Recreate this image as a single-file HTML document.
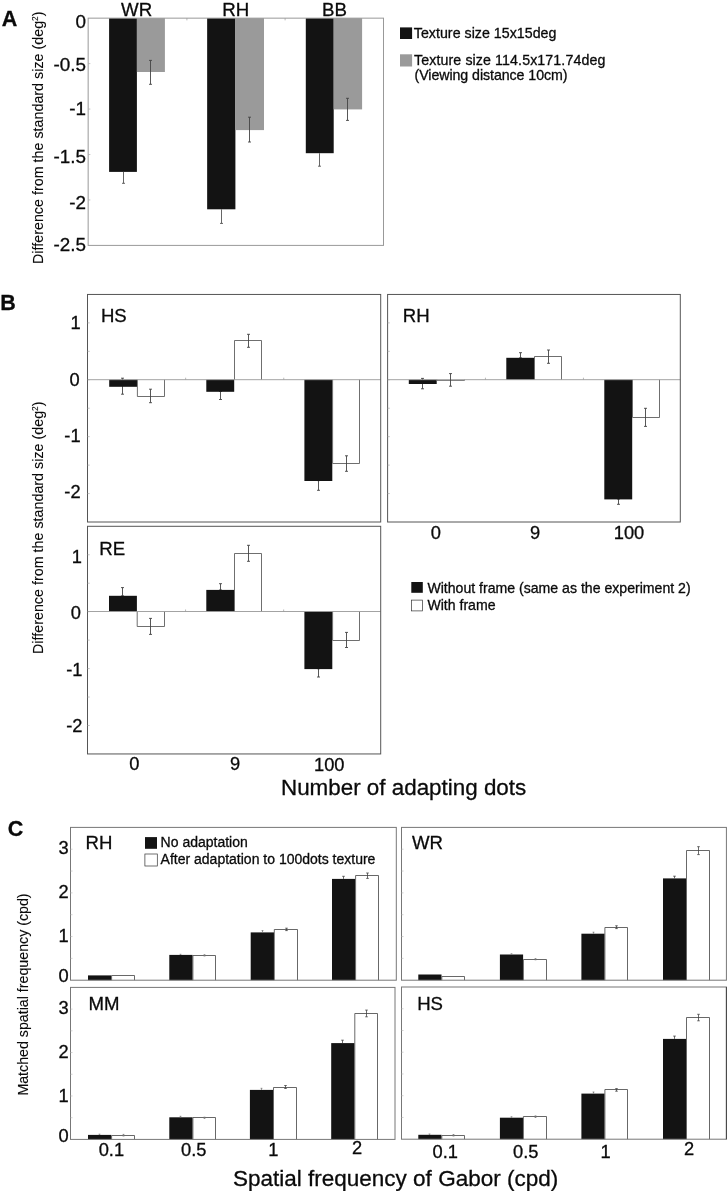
<!DOCTYPE html>
<html lang="en">
<head>
<meta charset="utf-8">
<title>Figure</title>
<style>
html,body{margin:0;padding:0;background:#fff;}
body{width:727px;height:1191px;overflow:hidden;}
svg{display:block;will-change:transform;filter:grayscale(1);font-family:'Liberation Sans', sans-serif;fill:#0a0a0a;}
text{stroke:#0a0a0a;stroke-width:0.3px;}
</style>
</head>
<body>
<svg width="727" height="1191" viewBox="0 0 727 1191">
<rect x="0" y="0" width="727" height="1191" fill="#ffffff"/>
<rect x="109.10" y="18.15" width="27.80" height="153.75" fill="#131313"/>
<rect x="136.90" y="18.15" width="28.00" height="53.85" fill="#9a9a9a"/>
<line x1="123.50" y1="171.90" x2="123.50" y2="183.30" stroke="#555" stroke-width="0.9"/>
<line x1="122.00" y1="183.30" x2="125.00" y2="183.30" stroke="#555" stroke-width="0.9"/>
<line x1="150.50" y1="60.40" x2="150.50" y2="84.30" stroke="#444" stroke-width="0.9"/>
<line x1="149.00" y1="60.40" x2="152.00" y2="60.40" stroke="#444" stroke-width="0.9"/>
<line x1="149.00" y1="84.30" x2="152.00" y2="84.30" stroke="#444" stroke-width="0.9"/>
<rect x="207.15" y="18.15" width="28.25" height="191.15" fill="#131313"/>
<rect x="235.40" y="18.15" width="28.60" height="111.95" fill="#9a9a9a"/>
<line x1="221.50" y1="209.30" x2="221.50" y2="223.40" stroke="#555" stroke-width="0.9"/>
<line x1="220.00" y1="223.40" x2="223.00" y2="223.40" stroke="#555" stroke-width="0.9"/>
<line x1="249.50" y1="117.20" x2="249.50" y2="142.00" stroke="#444" stroke-width="0.9"/>
<line x1="248.00" y1="117.20" x2="251.00" y2="117.20" stroke="#444" stroke-width="0.9"/>
<line x1="248.00" y1="142.00" x2="251.00" y2="142.00" stroke="#444" stroke-width="0.9"/>
<rect x="305.80" y="18.15" width="27.90" height="135.05" fill="#131313"/>
<rect x="333.70" y="18.15" width="28.40" height="91.25" fill="#9a9a9a"/>
<line x1="319.50" y1="153.20" x2="319.50" y2="166.20" stroke="#555" stroke-width="0.9"/>
<line x1="318.00" y1="166.20" x2="321.00" y2="166.20" stroke="#555" stroke-width="0.9"/>
<line x1="347.50" y1="98.30" x2="347.50" y2="120.40" stroke="#444" stroke-width="0.9"/>
<line x1="346.00" y1="98.30" x2="349.00" y2="98.30" stroke="#444" stroke-width="0.9"/>
<line x1="346.00" y1="120.40" x2="349.00" y2="120.40" stroke="#444" stroke-width="0.9"/>
<rect x="88.15" y="18.15" width="295.35" height="227.25" fill="none" stroke="#999" stroke-width="1"/>
<line x1="186.90" y1="18.15" x2="186.90" y2="20.35" stroke="#999" stroke-width="0.7"/>
<line x1="285.10" y1="18.15" x2="285.10" y2="20.35" stroke="#999" stroke-width="0.7"/>
<line x1="88.15" y1="63.60" x2="90.35" y2="63.60" stroke="#aaa" stroke-width="0.7"/>
<line x1="88.15" y1="109.05" x2="90.35" y2="109.05" stroke="#aaa" stroke-width="0.7"/>
<line x1="88.15" y1="154.50" x2="90.35" y2="154.50" stroke="#aaa" stroke-width="0.7"/>
<line x1="88.15" y1="199.95" x2="90.35" y2="199.95" stroke="#aaa" stroke-width="0.7"/>
<text x="85.90" y="27.80" font-size="18.85" text-anchor="end">0</text>
<text x="85.90" y="71.40" font-size="18.85" text-anchor="end">-0.5</text>
<text x="85.90" y="114.90" font-size="18.85" text-anchor="end">-1</text>
<text x="85.90" y="162.70" font-size="18.85" text-anchor="end">-1.5</text>
<text x="85.90" y="208.70" font-size="18.85" text-anchor="end">-2</text>
<text x="85.90" y="250.80" font-size="18.85" text-anchor="end">-2.5</text>
<text x="136.60" y="16.00" font-size="18.7" text-anchor="middle">WR</text>
<text x="235.80" y="16.00" font-size="18.7" text-anchor="middle">RH</text>
<text x="334.40" y="16.00" font-size="18.7" text-anchor="middle">BB</text>
<text x="1.80" y="26.20" font-size="21.5" font-weight="bold">A</text>
<text x="42.70" y="264.00" font-size="14.2" transform="rotate(-90 42.70 264.00)" style="stroke-width:0.12px" textLength="252.5" lengthAdjust="spacing">Difference from the standard size (deg<tspan font-size="8.3" dy="-4.6">2</tspan><tspan dy="4.6">)</tspan></text>
<rect x="400.00" y="27.40" width="12.10" height="11.60" fill="#131313"/>
<rect x="400.00" y="54.30" width="12.10" height="12.20" fill="#9a9a9a"/>
<text x="413.80" y="38.10" font-size="14.2" textLength="142.6" lengthAdjust="spacing">Texture size 15x15deg</text>
<text x="414.00" y="65.40" font-size="14.2" textLength="191.3" lengthAdjust="spacing">Texture size 114.5x171.74deg</text>
<text x="414.50" y="80.40" font-size="14.2" textLength="153.0" lengthAdjust="spacing">(Viewing distance 10cm)</text>
<line x1="122.50" y1="378.20" x2="122.50" y2="394.20" stroke="#444" stroke-width="0.9"/>
<line x1="121.00" y1="378.20" x2="124.00" y2="378.20" stroke="#444" stroke-width="0.9"/>
<line x1="121.00" y1="394.20" x2="124.00" y2="394.20" stroke="#444" stroke-width="0.9"/>
<rect x="109.20" y="379.70" width="27.90" height="7.10" fill="#131313"/>
<path d="M137.40 379.70V396.50H164.50V379.70" fill="#fff" stroke="#555" stroke-width="0.85"/>
<line x1="220.50" y1="391.40" x2="220.50" y2="399.50" stroke="#444" stroke-width="0.9"/>
<line x1="219.00" y1="391.40" x2="222.00" y2="391.40" stroke="#444" stroke-width="0.9"/>
<line x1="219.00" y1="399.50" x2="222.00" y2="399.50" stroke="#444" stroke-width="0.9"/>
<rect x="206.30" y="379.70" width="27.90" height="12.10" fill="#131313"/>
<path d="M234.50 379.70V340.50H261.50V379.70" fill="#fff" stroke="#555" stroke-width="0.85"/>
<line x1="318.50" y1="480.60" x2="318.50" y2="490.30" stroke="#444" stroke-width="0.9"/>
<line x1="317.00" y1="480.60" x2="320.00" y2="480.60" stroke="#444" stroke-width="0.9"/>
<line x1="317.00" y1="490.30" x2="320.00" y2="490.30" stroke="#444" stroke-width="0.9"/>
<rect x="304.40" y="379.70" width="27.90" height="101.30" fill="#131313"/>
<path d="M332.60 379.70V463.50H359.50V379.70" fill="#fff" stroke="#555" stroke-width="0.85"/>
<line x1="87.50" y1="379.70" x2="380.70" y2="379.70" stroke="#999" stroke-width="0.9"/>
<line x1="150.50" y1="389.20" x2="150.50" y2="402.70" stroke="#444" stroke-width="0.9"/>
<line x1="149.00" y1="389.20" x2="152.00" y2="389.20" stroke="#444" stroke-width="0.9"/>
<line x1="149.00" y1="402.70" x2="152.00" y2="402.70" stroke="#444" stroke-width="0.9"/>
<line x1="248.50" y1="334.30" x2="248.50" y2="347.30" stroke="#444" stroke-width="0.9"/>
<line x1="247.00" y1="334.30" x2="250.00" y2="334.30" stroke="#444" stroke-width="0.9"/>
<line x1="247.00" y1="347.30" x2="250.00" y2="347.30" stroke="#444" stroke-width="0.9"/>
<line x1="346.50" y1="455.80" x2="346.50" y2="471.30" stroke="#444" stroke-width="0.9"/>
<line x1="345.00" y1="455.80" x2="348.00" y2="455.80" stroke="#444" stroke-width="0.9"/>
<line x1="345.00" y1="471.30" x2="348.00" y2="471.30" stroke="#444" stroke-width="0.9"/>
<rect x="87.5" y="294.45" width="293.2" height="227.55" fill="none" stroke="#555" stroke-width="1"/>
<line x1="87.50" y1="322.89" x2="89.70" y2="322.89" stroke="#aaa" stroke-width="0.7"/>
<line x1="87.50" y1="351.34" x2="89.70" y2="351.34" stroke="#aaa" stroke-width="0.7"/>
<line x1="87.50" y1="379.78" x2="89.70" y2="379.78" stroke="#aaa" stroke-width="0.7"/>
<line x1="87.50" y1="408.23" x2="89.70" y2="408.23" stroke="#aaa" stroke-width="0.7"/>
<line x1="87.50" y1="436.67" x2="89.70" y2="436.67" stroke="#aaa" stroke-width="0.7"/>
<line x1="87.50" y1="465.11" x2="89.70" y2="465.11" stroke="#aaa" stroke-width="0.7"/>
<line x1="87.50" y1="493.56" x2="89.70" y2="493.56" stroke="#aaa" stroke-width="0.7"/>
<line x1="185.65" y1="377.70" x2="185.65" y2="379.70" stroke="#999" stroke-width="0.7"/>
<line x1="283.75" y1="377.70" x2="283.75" y2="379.70" stroke="#999" stroke-width="0.7"/>
<text x="100.90" y="321.90" font-size="18.6">HS</text>
<line x1="422.50" y1="378.40" x2="422.50" y2="388.80" stroke="#444" stroke-width="0.9"/>
<line x1="421.00" y1="378.40" x2="424.00" y2="378.40" stroke="#444" stroke-width="0.9"/>
<line x1="421.00" y1="388.80" x2="424.00" y2="388.80" stroke="#444" stroke-width="0.9"/>
<rect x="408.80" y="379.70" width="27.90" height="4.30" fill="#131313"/>
<path d="M437.00 379.70V380.40H464.50V379.70" fill="#fff" stroke="#555" stroke-width="0.85"/>
<line x1="520.50" y1="352.70" x2="520.50" y2="357.90" stroke="#444" stroke-width="0.9"/>
<line x1="519.00" y1="352.70" x2="522.00" y2="352.70" stroke="#444" stroke-width="0.9"/>
<line x1="519.00" y1="357.90" x2="522.00" y2="357.90" stroke="#444" stroke-width="0.9"/>
<rect x="506.30" y="357.80" width="27.90" height="21.90" fill="#131313"/>
<path d="M534.50 379.70V356.50H561.50V379.70" fill="#fff" stroke="#555" stroke-width="0.85"/>
<line x1="618.50" y1="499.00" x2="618.50" y2="504.30" stroke="#444" stroke-width="0.9"/>
<line x1="617.00" y1="499.00" x2="620.00" y2="499.00" stroke="#444" stroke-width="0.9"/>
<line x1="617.00" y1="504.30" x2="620.00" y2="504.30" stroke="#444" stroke-width="0.9"/>
<rect x="604.30" y="379.70" width="27.90" height="119.70" fill="#131313"/>
<path d="M632.50 379.70V417.50H659.50V379.70" fill="#fff" stroke="#555" stroke-width="0.85"/>
<line x1="387.60" y1="379.70" x2="680.30" y2="379.70" stroke="#999" stroke-width="0.9"/>
<line x1="450.50" y1="373.60" x2="450.50" y2="386.20" stroke="#444" stroke-width="0.9"/>
<line x1="449.00" y1="373.60" x2="452.00" y2="373.60" stroke="#444" stroke-width="0.9"/>
<line x1="449.00" y1="386.20" x2="452.00" y2="386.20" stroke="#444" stroke-width="0.9"/>
<line x1="548.50" y1="350.00" x2="548.50" y2="363.30" stroke="#444" stroke-width="0.9"/>
<line x1="547.00" y1="350.00" x2="550.00" y2="350.00" stroke="#444" stroke-width="0.9"/>
<line x1="547.00" y1="363.30" x2="550.00" y2="363.30" stroke="#444" stroke-width="0.9"/>
<line x1="645.50" y1="408.30" x2="645.50" y2="426.40" stroke="#444" stroke-width="0.9"/>
<line x1="644.00" y1="408.30" x2="647.00" y2="408.30" stroke="#444" stroke-width="0.9"/>
<line x1="644.00" y1="426.40" x2="647.00" y2="426.40" stroke="#444" stroke-width="0.9"/>
<rect x="387.6" y="294.45" width="292.69999999999993" height="227.55" fill="none" stroke="#555" stroke-width="1"/>
<line x1="387.60" y1="322.89" x2="389.80" y2="322.89" stroke="#aaa" stroke-width="0.7"/>
<line x1="387.60" y1="351.34" x2="389.80" y2="351.34" stroke="#aaa" stroke-width="0.7"/>
<line x1="387.60" y1="379.78" x2="389.80" y2="379.78" stroke="#aaa" stroke-width="0.7"/>
<line x1="387.60" y1="408.23" x2="389.80" y2="408.23" stroke="#aaa" stroke-width="0.7"/>
<line x1="387.60" y1="436.67" x2="389.80" y2="436.67" stroke="#aaa" stroke-width="0.7"/>
<line x1="387.60" y1="465.11" x2="389.80" y2="465.11" stroke="#aaa" stroke-width="0.7"/>
<line x1="387.60" y1="493.56" x2="389.80" y2="493.56" stroke="#aaa" stroke-width="0.7"/>
<line x1="485.45" y1="377.70" x2="485.45" y2="379.70" stroke="#999" stroke-width="0.7"/>
<line x1="583.45" y1="377.70" x2="583.45" y2="379.70" stroke="#999" stroke-width="0.7"/>
<text x="402.80" y="322.30" font-size="18.6">RH</text>
<line x1="122.50" y1="587.60" x2="122.50" y2="595.90" stroke="#444" stroke-width="0.9"/>
<line x1="121.00" y1="587.60" x2="124.00" y2="587.60" stroke="#444" stroke-width="0.9"/>
<line x1="121.00" y1="595.90" x2="124.00" y2="595.90" stroke="#444" stroke-width="0.9"/>
<rect x="109.00" y="595.80" width="27.90" height="15.70" fill="#131313"/>
<path d="M137.20 611.50V626.50H164.50V611.50" fill="#fff" stroke="#555" stroke-width="0.85"/>
<line x1="220.50" y1="583.70" x2="220.50" y2="590.00" stroke="#444" stroke-width="0.9"/>
<line x1="219.00" y1="583.70" x2="222.00" y2="583.70" stroke="#444" stroke-width="0.9"/>
<line x1="219.00" y1="590.00" x2="222.00" y2="590.00" stroke="#444" stroke-width="0.9"/>
<rect x="206.30" y="589.90" width="27.90" height="21.60" fill="#131313"/>
<path d="M234.50 611.50V553.50H261.50V611.50" fill="#fff" stroke="#555" stroke-width="0.85"/>
<line x1="318.50" y1="668.70" x2="318.50" y2="677.00" stroke="#444" stroke-width="0.9"/>
<line x1="317.00" y1="668.70" x2="320.00" y2="668.70" stroke="#444" stroke-width="0.9"/>
<line x1="317.00" y1="677.00" x2="320.00" y2="677.00" stroke="#444" stroke-width="0.9"/>
<rect x="304.40" y="611.50" width="27.90" height="57.60" fill="#131313"/>
<path d="M332.60 611.50V640.50H359.50V611.50" fill="#fff" stroke="#555" stroke-width="0.85"/>
<line x1="87.50" y1="611.50" x2="380.70" y2="611.50" stroke="#999" stroke-width="0.9"/>
<line x1="150.50" y1="618.40" x2="150.50" y2="634.40" stroke="#444" stroke-width="0.9"/>
<line x1="149.00" y1="618.40" x2="152.00" y2="618.40" stroke="#444" stroke-width="0.9"/>
<line x1="149.00" y1="634.40" x2="152.00" y2="634.40" stroke="#444" stroke-width="0.9"/>
<line x1="248.50" y1="545.30" x2="248.50" y2="561.30" stroke="#444" stroke-width="0.9"/>
<line x1="247.00" y1="545.30" x2="250.00" y2="545.30" stroke="#444" stroke-width="0.9"/>
<line x1="247.00" y1="561.30" x2="250.00" y2="561.30" stroke="#444" stroke-width="0.9"/>
<line x1="346.50" y1="632.40" x2="346.50" y2="647.50" stroke="#444" stroke-width="0.9"/>
<line x1="345.00" y1="632.40" x2="348.00" y2="632.40" stroke="#444" stroke-width="0.9"/>
<line x1="345.00" y1="647.50" x2="348.00" y2="647.50" stroke="#444" stroke-width="0.9"/>
<rect x="87.5" y="526.3" width="293.2" height="227.6500000000001" fill="none" stroke="#555" stroke-width="1"/>
<line x1="87.50" y1="554.76" x2="89.70" y2="554.76" stroke="#aaa" stroke-width="0.7"/>
<line x1="87.50" y1="583.21" x2="89.70" y2="583.21" stroke="#aaa" stroke-width="0.7"/>
<line x1="87.50" y1="611.67" x2="89.70" y2="611.67" stroke="#aaa" stroke-width="0.7"/>
<line x1="87.50" y1="640.12" x2="89.70" y2="640.12" stroke="#aaa" stroke-width="0.7"/>
<line x1="87.50" y1="668.58" x2="89.70" y2="668.58" stroke="#aaa" stroke-width="0.7"/>
<line x1="87.50" y1="697.04" x2="89.70" y2="697.04" stroke="#aaa" stroke-width="0.7"/>
<line x1="87.50" y1="725.49" x2="89.70" y2="725.49" stroke="#aaa" stroke-width="0.7"/>
<line x1="185.55" y1="609.50" x2="185.55" y2="611.50" stroke="#999" stroke-width="0.7"/>
<line x1="283.65" y1="609.50" x2="283.65" y2="611.50" stroke="#999" stroke-width="0.7"/>
<text x="99.30" y="555.00" font-size="18.6">RE</text>
<text x="80.60" y="328.80" font-size="18.3" text-anchor="end">1</text>
<text x="79.70" y="385.60" font-size="18.3" text-anchor="end">0</text>
<text x="80.60" y="441.90" font-size="18.3" text-anchor="end">-1</text>
<text x="80.60" y="498.20" font-size="18.3" text-anchor="end">-2</text>
<text x="82.00" y="562.50" font-size="18.3" text-anchor="end">1</text>
<text x="81.00" y="619.20" font-size="18.3" text-anchor="end">0</text>
<text x="82.40" y="675.50" font-size="18.3" text-anchor="end">-1</text>
<text x="82.40" y="731.80" font-size="18.3" text-anchor="end">-2</text>
<text x="435.80" y="539.30" font-size="18.3" text-anchor="middle">0</text>
<text x="535.00" y="539.30" font-size="18.3" text-anchor="middle">9</text>
<text x="629.00" y="539.30" font-size="18.3" text-anchor="middle">100</text>
<text x="134.30" y="770.30" font-size="18.3" text-anchor="middle">0</text>
<text x="235.00" y="769.60" font-size="18.3" text-anchor="middle">9</text>
<text x="329.30" y="770.80" font-size="18.3" text-anchor="middle">100</text>
<text x="281.00" y="794.90" font-size="22.4">Number of adapting dots</text>
<text x="0.20" y="309.90" font-size="21.5" font-weight="bold">B</text>
<text x="42.70" y="654.00" font-size="14.2" transform="rotate(-90 42.70 654.00)" style="stroke-width:0.12px" textLength="252.5" lengthAdjust="spacing">Difference from the standard size (deg<tspan font-size="8.3" dy="-4.6">2</tspan><tspan dy="4.6">)</tspan></text>
<rect x="411.30" y="582.00" width="11.50" height="10.80" fill="#131313"/>
<rect x="411.60" y="600.10" width="10.90" height="10.80" fill="#fff" stroke="#333" stroke-width="0.7"/>
<text x="427.40" y="592.50" font-size="14.1" textLength="263.2" lengthAdjust="spacing">Without frame (same as the experiment 2)</text>
<text x="427.40" y="610.10" font-size="14.1">With frame</text>
<rect x="88.00" y="975.40" width="23.30" height="4.80" fill="#131313"/>
<path d="M111.60 980.20V975.50H134.50V980.20" fill="#fff" stroke="#4d4d4d" stroke-width="0.85"/>
<rect x="169.30" y="954.90" width="23.30" height="25.30" fill="#131313"/>
<path d="M192.90 980.20V955.50H215.50V980.20" fill="#fff" stroke="#4d4d4d" stroke-width="0.85"/>
<line x1="180.50" y1="954.90" x2="180.50" y2="954.30" stroke="#777" stroke-width="0.8"/>
<line x1="179.60" y1="954.30" x2="181.40" y2="954.30" stroke="#777" stroke-width="0.8"/>
<line x1="204.50" y1="954.70" x2="204.50" y2="956.00" stroke="#777" stroke-width="0.8"/>
<line x1="203.60" y1="954.70" x2="205.40" y2="954.70" stroke="#777" stroke-width="0.8"/>
<line x1="203.60" y1="956.00" x2="205.40" y2="956.00" stroke="#777" stroke-width="0.8"/>
<rect x="250.70" y="932.40" width="23.30" height="47.80" fill="#131313"/>
<path d="M274.30 980.20V929.50H297.50V980.20" fill="#fff" stroke="#4d4d4d" stroke-width="0.85"/>
<line x1="262.50" y1="932.40" x2="262.50" y2="930.60" stroke="#777" stroke-width="0.8"/>
<line x1="261.60" y1="930.60" x2="263.40" y2="930.60" stroke="#777" stroke-width="0.8"/>
<line x1="286.50" y1="928.20" x2="286.50" y2="930.60" stroke="#444" stroke-width="0.8"/>
<line x1="285.20" y1="928.20" x2="287.80" y2="928.20" stroke="#444" stroke-width="0.8"/>
<line x1="285.20" y1="930.60" x2="287.80" y2="930.60" stroke="#444" stroke-width="0.8"/>
<rect x="332.00" y="878.90" width="23.30" height="101.30" fill="#131313"/>
<path d="M355.60 980.20V875.50H378.50V980.20" fill="#fff" stroke="#4d4d4d" stroke-width="0.85"/>
<line x1="343.50" y1="878.90" x2="343.50" y2="876.30" stroke="#444" stroke-width="0.8"/>
<line x1="342.20" y1="876.30" x2="344.80" y2="876.30" stroke="#444" stroke-width="0.8"/>
<line x1="367.50" y1="873.00" x2="367.50" y2="878.40" stroke="#444" stroke-width="0.8"/>
<line x1="366.20" y1="873.00" x2="368.80" y2="873.00" stroke="#444" stroke-width="0.8"/>
<line x1="366.20" y1="878.40" x2="368.80" y2="878.40" stroke="#444" stroke-width="0.8"/>
<rect x="70.5" y="827.4" width="325.8" height="152.80000000000007" fill="none" stroke="#777" stroke-width="1"/>
<line x1="70.50" y1="958.37" x2="72.50" y2="958.37" stroke="#bbb" stroke-width="0.7"/>
<line x1="70.50" y1="936.54" x2="72.50" y2="936.54" stroke="#bbb" stroke-width="0.7"/>
<line x1="70.50" y1="914.71" x2="72.50" y2="914.71" stroke="#bbb" stroke-width="0.7"/>
<line x1="70.50" y1="892.89" x2="72.50" y2="892.89" stroke="#bbb" stroke-width="0.7"/>
<line x1="70.50" y1="871.06" x2="72.50" y2="871.06" stroke="#bbb" stroke-width="0.7"/>
<line x1="70.50" y1="849.23" x2="72.50" y2="849.23" stroke="#bbb" stroke-width="0.7"/>
<text x="85.50" y="849.20" font-size="18.6">RH</text>
<rect x="418.30" y="974.50" width="23.20" height="5.70" fill="#131313"/>
<path d="M441.80 980.20V976.50H464.50V980.20" fill="#fff" stroke="#4d4d4d" stroke-width="0.85"/>
<rect x="499.90" y="954.50" width="23.20" height="25.70" fill="#131313"/>
<path d="M523.40 980.20V959.50H546.50V980.20" fill="#fff" stroke="#4d4d4d" stroke-width="0.85"/>
<line x1="511.50" y1="954.50" x2="511.50" y2="953.80" stroke="#777" stroke-width="0.8"/>
<line x1="510.60" y1="953.80" x2="512.40" y2="953.80" stroke="#777" stroke-width="0.8"/>
<line x1="535.50" y1="958.60" x2="535.50" y2="959.80" stroke="#777" stroke-width="0.8"/>
<line x1="534.60" y1="958.60" x2="536.40" y2="958.60" stroke="#777" stroke-width="0.8"/>
<line x1="534.60" y1="959.80" x2="536.40" y2="959.80" stroke="#777" stroke-width="0.8"/>
<rect x="581.40" y="933.70" width="23.20" height="46.50" fill="#131313"/>
<path d="M604.90 980.20V927.50H627.50V980.20" fill="#fff" stroke="#4d4d4d" stroke-width="0.85"/>
<line x1="593.50" y1="933.70" x2="593.50" y2="932.20" stroke="#777" stroke-width="0.8"/>
<line x1="592.60" y1="932.20" x2="594.40" y2="932.20" stroke="#777" stroke-width="0.8"/>
<line x1="616.50" y1="925.80" x2="616.50" y2="928.60" stroke="#444" stroke-width="0.8"/>
<line x1="615.20" y1="925.80" x2="617.80" y2="925.80" stroke="#444" stroke-width="0.8"/>
<line x1="615.20" y1="928.60" x2="617.80" y2="928.60" stroke="#444" stroke-width="0.8"/>
<rect x="663.00" y="878.40" width="23.20" height="101.80" fill="#131313"/>
<path d="M686.50 980.20V850.50H709.50V980.20" fill="#fff" stroke="#4d4d4d" stroke-width="0.85"/>
<line x1="674.50" y1="878.40" x2="674.50" y2="876.20" stroke="#444" stroke-width="0.8"/>
<line x1="673.20" y1="876.20" x2="675.80" y2="876.20" stroke="#444" stroke-width="0.8"/>
<line x1="698.50" y1="846.70" x2="698.50" y2="854.60" stroke="#444" stroke-width="0.8"/>
<line x1="697.20" y1="846.70" x2="699.80" y2="846.70" stroke="#444" stroke-width="0.8"/>
<line x1="697.20" y1="854.60" x2="699.80" y2="854.60" stroke="#444" stroke-width="0.8"/>
<rect x="401.5" y="827.4" width="324.9" height="152.80000000000007" fill="none" stroke="#777" stroke-width="1"/>
<line x1="401.50" y1="958.37" x2="403.50" y2="958.37" stroke="#bbb" stroke-width="0.7"/>
<line x1="401.50" y1="936.54" x2="403.50" y2="936.54" stroke="#bbb" stroke-width="0.7"/>
<line x1="401.50" y1="914.71" x2="403.50" y2="914.71" stroke="#bbb" stroke-width="0.7"/>
<line x1="401.50" y1="892.89" x2="403.50" y2="892.89" stroke="#bbb" stroke-width="0.7"/>
<line x1="401.50" y1="871.06" x2="403.50" y2="871.06" stroke="#bbb" stroke-width="0.7"/>
<line x1="401.50" y1="849.23" x2="403.50" y2="849.23" stroke="#bbb" stroke-width="0.7"/>
<text x="412.00" y="849.30" font-size="18.6">WR</text>
<rect x="88.00" y="1134.90" width="23.30" height="4.50" fill="#131313"/>
<path d="M111.60 1139.40V1135.50H134.50V1139.40" fill="#fff" stroke="#4d4d4d" stroke-width="0.85"/>
<line x1="99.50" y1="1134.90" x2="99.50" y2="1134.20" stroke="#777" stroke-width="0.8"/>
<line x1="98.60" y1="1134.20" x2="100.40" y2="1134.20" stroke="#777" stroke-width="0.8"/>
<line x1="123.50" y1="1134.40" x2="123.50" y2="1136.00" stroke="#777" stroke-width="0.8"/>
<line x1="122.60" y1="1134.40" x2="124.40" y2="1134.40" stroke="#777" stroke-width="0.8"/>
<line x1="122.60" y1="1136.00" x2="124.40" y2="1136.00" stroke="#777" stroke-width="0.8"/>
<rect x="169.30" y="1117.30" width="23.30" height="22.10" fill="#131313"/>
<path d="M192.90 1139.40V1117.50H215.50V1139.40" fill="#fff" stroke="#4d4d4d" stroke-width="0.85"/>
<line x1="180.50" y1="1117.30" x2="180.50" y2="1116.30" stroke="#777" stroke-width="0.8"/>
<line x1="179.60" y1="1116.30" x2="181.40" y2="1116.30" stroke="#777" stroke-width="0.8"/>
<line x1="204.50" y1="1117.20" x2="204.50" y2="1118.40" stroke="#777" stroke-width="0.8"/>
<line x1="203.60" y1="1117.20" x2="205.40" y2="1117.20" stroke="#777" stroke-width="0.8"/>
<line x1="203.60" y1="1118.40" x2="205.40" y2="1118.40" stroke="#777" stroke-width="0.8"/>
<rect x="249.90" y="1089.90" width="23.30" height="49.50" fill="#131313"/>
<path d="M273.50 1139.40V1087.50H296.50V1139.40" fill="#fff" stroke="#4d4d4d" stroke-width="0.85"/>
<line x1="261.50" y1="1089.90" x2="261.50" y2="1088.30" stroke="#777" stroke-width="0.8"/>
<line x1="260.60" y1="1088.30" x2="262.40" y2="1088.30" stroke="#777" stroke-width="0.8"/>
<line x1="285.50" y1="1085.50" x2="285.50" y2="1088.50" stroke="#444" stroke-width="0.8"/>
<line x1="284.20" y1="1085.50" x2="286.80" y2="1085.50" stroke="#444" stroke-width="0.8"/>
<line x1="284.20" y1="1088.50" x2="286.80" y2="1088.50" stroke="#444" stroke-width="0.8"/>
<rect x="331.20" y="1043.10" width="23.30" height="96.30" fill="#131313"/>
<path d="M354.80 1139.40V1013.50H377.50V1139.40" fill="#fff" stroke="#4d4d4d" stroke-width="0.85"/>
<line x1="342.50" y1="1043.10" x2="342.50" y2="1040.20" stroke="#444" stroke-width="0.8"/>
<line x1="341.20" y1="1040.20" x2="343.80" y2="1040.20" stroke="#444" stroke-width="0.8"/>
<line x1="366.50" y1="1010.10" x2="366.50" y2="1016.80" stroke="#444" stroke-width="0.8"/>
<line x1="365.20" y1="1010.10" x2="367.80" y2="1010.10" stroke="#444" stroke-width="0.8"/>
<line x1="365.20" y1="1016.80" x2="367.80" y2="1016.80" stroke="#444" stroke-width="0.8"/>
<rect x="70.5" y="987.4" width="324.5" height="152.0000000000001" fill="none" stroke="#777" stroke-width="1"/>
<line x1="70.50" y1="1117.69" x2="72.50" y2="1117.69" stroke="#bbb" stroke-width="0.7"/>
<line x1="70.50" y1="1095.97" x2="72.50" y2="1095.97" stroke="#bbb" stroke-width="0.7"/>
<line x1="70.50" y1="1074.26" x2="72.50" y2="1074.26" stroke="#bbb" stroke-width="0.7"/>
<line x1="70.50" y1="1052.54" x2="72.50" y2="1052.54" stroke="#bbb" stroke-width="0.7"/>
<line x1="70.50" y1="1030.83" x2="72.50" y2="1030.83" stroke="#bbb" stroke-width="0.7"/>
<line x1="70.50" y1="1009.11" x2="72.50" y2="1009.11" stroke="#bbb" stroke-width="0.7"/>
<text x="88.40" y="1010.30" font-size="18.6">MM</text>
<rect x="418.30" y="1134.80" width="23.20" height="4.40" fill="#131313"/>
<path d="M441.80 1139.20V1135.50H464.50V1139.20" fill="#fff" stroke="#4d4d4d" stroke-width="0.85"/>
<line x1="429.50" y1="1134.80" x2="429.50" y2="1134.00" stroke="#777" stroke-width="0.8"/>
<line x1="428.60" y1="1134.00" x2="430.40" y2="1134.00" stroke="#777" stroke-width="0.8"/>
<line x1="453.50" y1="1134.50" x2="453.50" y2="1136.00" stroke="#777" stroke-width="0.8"/>
<line x1="452.60" y1="1134.50" x2="454.40" y2="1134.50" stroke="#777" stroke-width="0.8"/>
<line x1="452.60" y1="1136.00" x2="454.40" y2="1136.00" stroke="#777" stroke-width="0.8"/>
<rect x="499.90" y="1117.70" width="23.20" height="21.50" fill="#131313"/>
<path d="M523.40 1139.20V1116.50H546.50V1139.20" fill="#fff" stroke="#4d4d4d" stroke-width="0.85"/>
<line x1="511.50" y1="1117.70" x2="511.50" y2="1116.80" stroke="#777" stroke-width="0.8"/>
<line x1="510.60" y1="1116.80" x2="512.40" y2="1116.80" stroke="#777" stroke-width="0.8"/>
<line x1="535.50" y1="1115.90" x2="535.50" y2="1117.50" stroke="#777" stroke-width="0.8"/>
<line x1="534.60" y1="1115.90" x2="536.40" y2="1115.90" stroke="#777" stroke-width="0.8"/>
<line x1="534.60" y1="1117.50" x2="536.40" y2="1117.50" stroke="#777" stroke-width="0.8"/>
<rect x="581.40" y="1093.60" width="23.20" height="45.60" fill="#131313"/>
<path d="M604.90 1139.20V1089.50H627.50V1139.20" fill="#fff" stroke="#4d4d4d" stroke-width="0.85"/>
<line x1="593.50" y1="1093.60" x2="593.50" y2="1092.00" stroke="#777" stroke-width="0.8"/>
<line x1="592.60" y1="1092.00" x2="594.40" y2="1092.00" stroke="#777" stroke-width="0.8"/>
<line x1="616.50" y1="1088.60" x2="616.50" y2="1091.20" stroke="#444" stroke-width="0.8"/>
<line x1="615.20" y1="1088.60" x2="617.80" y2="1088.60" stroke="#444" stroke-width="0.8"/>
<line x1="615.20" y1="1091.20" x2="617.80" y2="1091.20" stroke="#444" stroke-width="0.8"/>
<rect x="663.00" y="1038.90" width="23.20" height="100.30" fill="#131313"/>
<path d="M686.50 1139.20V1017.50H709.50V1139.20" fill="#fff" stroke="#4d4d4d" stroke-width="0.85"/>
<line x1="674.50" y1="1038.90" x2="674.50" y2="1036.10" stroke="#444" stroke-width="0.8"/>
<line x1="673.20" y1="1036.10" x2="675.80" y2="1036.10" stroke="#444" stroke-width="0.8"/>
<line x1="698.50" y1="1014.30" x2="698.50" y2="1020.80" stroke="#444" stroke-width="0.8"/>
<line x1="697.20" y1="1014.30" x2="699.80" y2="1014.30" stroke="#444" stroke-width="0.8"/>
<line x1="697.20" y1="1020.80" x2="699.80" y2="1020.80" stroke="#444" stroke-width="0.8"/>
<rect x="401.5" y="987.0" width="324.9" height="152.20000000000005" fill="none" stroke="#777" stroke-width="1"/>
<line x1="401.50" y1="1117.46" x2="403.50" y2="1117.46" stroke="#bbb" stroke-width="0.7"/>
<line x1="401.50" y1="1095.71" x2="403.50" y2="1095.71" stroke="#bbb" stroke-width="0.7"/>
<line x1="401.50" y1="1073.97" x2="403.50" y2="1073.97" stroke="#bbb" stroke-width="0.7"/>
<line x1="401.50" y1="1052.23" x2="403.50" y2="1052.23" stroke="#bbb" stroke-width="0.7"/>
<line x1="401.50" y1="1030.49" x2="403.50" y2="1030.49" stroke="#bbb" stroke-width="0.7"/>
<line x1="401.50" y1="1008.74" x2="403.50" y2="1008.74" stroke="#bbb" stroke-width="0.7"/>
<text x="417.20" y="1010.10" font-size="18.6">HS</text>
<line x1="726.40" y1="987.00" x2="726.40" y2="1139.20" stroke="#444" stroke-width="1"/>
<text x="68.60" y="853.90" font-size="18.3" text-anchor="end">3</text>
<text x="68.60" y="897.80" font-size="18.3" text-anchor="end">2</text>
<text x="68.60" y="941.70" font-size="18.3" text-anchor="end">1</text>
<text x="68.60" y="982.20" font-size="18.3" text-anchor="end">0</text>
<text x="68.60" y="1014.00" font-size="18.3" text-anchor="end">3</text>
<text x="68.60" y="1058.30" font-size="18.3" text-anchor="end">2</text>
<text x="68.60" y="1102.10" font-size="18.3" text-anchor="end">1</text>
<text x="68.60" y="1141.90" font-size="18.3" text-anchor="end">0</text>
<text x="111.40" y="1156.30" font-size="18.3" text-anchor="middle">0.1</text>
<text x="193.70" y="1156.10" font-size="18.3" text-anchor="middle">0.5</text>
<text x="273.40" y="1156.10" font-size="18.3" text-anchor="middle">1</text>
<text x="357.20" y="1154.30" font-size="18.3" text-anchor="middle">2</text>
<text x="445.20" y="1157.60" font-size="18.3" text-anchor="middle">0.1</text>
<text x="525.80" y="1157.60" font-size="18.3" text-anchor="middle">0.5</text>
<text x="605.50" y="1157.60" font-size="18.3" text-anchor="middle">1</text>
<text x="689.00" y="1154.90" font-size="18.3" text-anchor="middle">2</text>
<text x="233.00" y="1185.50" font-size="22.5">Spatial frequency of Gabor (cpd)</text>
<text x="7.70" y="835.90" font-size="21.5" font-weight="bold">C</text>
<text x="28.50" y="1095.60" font-size="14.2" transform="rotate(-90 28.50 1095.60)" style="stroke-width:0.12px" textLength="202.2" lengthAdjust="spacing">Matched spatial frequency (cpd)</text>
<rect x="145.00" y="837.10" width="12.00" height="11.70" fill="#131313"/>
<rect x="144.90" y="854.00" width="12.40" height="12.00" fill="#fff" stroke="#333" stroke-width="0.7"/>
<text x="160.60" y="847.30" font-size="14.0">No adaptation</text>
<text x="160.60" y="864.10" font-size="14.0">After adaptation to 100dots texture</text>
</svg>
</body>
</html>
